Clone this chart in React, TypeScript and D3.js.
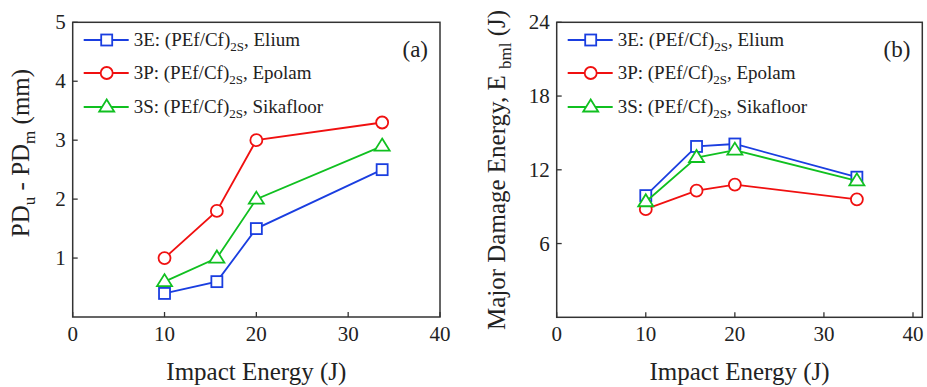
import React from "react";
import * as d3 from "d3";

const impactEnergy = [10, 15.7, 20, 33.7];
const seriesNames = ["3E", "3P", "3S"];
const seriesMatrix = ["Elium", "Epolam", "Sikafloor"];
const seriesColors = ["#1a3ee0", "#f01010", "#10c020"];
const seriesShapes = ["square", "circle", "triangle"];
const pdA = [
  [0.4, 0.6, 1.5, 2.5],
  [1.0, 1.8, 3.0, 3.3],
  [0.6, 1.0, 2.0, 2.9],
];
const energyB = [
  [9.9, 13.9, 14.1, 11.4],
  [8.8, 10.3, 10.8, 9.6],
  [9.4, 13.0, 13.6, 11.1],
];
const xTicks = [0, 10, 20, 30, 40];
const yTicksA = [1, 2, 3, 4, 5];
const yTicksB = [6, 12, 18, 24];

const FONT = "Liberation Serif, DejaVu Serif, Times New Roman, serif";
const AXIS = "#333";

function Marker({ shape, x, y, color }: any) {
  if (shape === "square")
    return <rect x={x - 5.5} y={y - 5.5} width={11} height={11} fill="white" stroke={color} strokeWidth={1.8} />;
  if (shape === "circle")
    return <circle cx={x} cy={y} r={6} fill="white" stroke={color} strokeWidth={1.8} />;
  const s = 7.5;
  return (
    <path
      d={`M${x},${y - s} L${x + s},${y + s * 0.6} L${x - s},${y + s * 0.6} Z`}
      fill="white"
      stroke={color}
      strokeWidth={1.8}
    />
  );
}

function Panel({ box, xMax, yMax, yTicks, data, tag, ylabel }: any) {
  const x = d3.scaleLinear().domain([0, xMax]).range([box.l, box.r]);
  const y = d3.scaleLinear().domain([0, yMax]).range([box.b, box.t]);
  const line = d3
    .line<number>()
    .x((_, i) => x(impactEnergy[i]))
    .y((d) => y(d));
  const legX = box.l + 11;
  const legY = [40, 73, 107];
  return (
    <g style={{ fontFamily: FONT }}>
      <rect x={box.l} y={box.t} width={box.r - box.l} height={box.b - box.t} fill="none" stroke={AXIS} strokeWidth={1.5} />
      {xTicks.map((t) => (
        <g key={"x" + t}>
          <line x1={x(t)} x2={x(t)} y1={box.b} y2={box.b - 5} stroke={AXIS} strokeWidth={1.3} />
          <text x={x(t)} y={box.b + 24} textAnchor="middle" fontSize={21} fill="#222">
            {t}
          </text>
        </g>
      ))}
      {yTicks.map((t: number) => (
        <g key={"y" + t}>
          <line x1={box.l} x2={box.l + 5} y1={y(t)} y2={y(t)} stroke={AXIS} strokeWidth={1.3} />
          <text x={box.l - 7} y={y(t) + 7} textAnchor="end" fontSize={21} fill="#222">
            {t}
          </text>
        </g>
      ))}
      <text x={(box.l + box.r) / 2} y={380} textAnchor="middle" fontSize={25} fill="#222">
        Impact Energy (J)
      </text>
      {ylabel}
      {data.map((vals: number[], si: number) => (
        <g key={si}>
          <path d={line(vals) || ""} fill="none" stroke={seriesColors[si]} strokeWidth={1.8} />
          {vals.map((v, i) => (
            <Marker key={i} shape={seriesShapes[si]} x={x(impactEnergy[i])} y={y(v)} color={seriesColors[si]} />
          ))}
        </g>
      ))}
      {seriesNames.map((n, si) => (
        <g key={"l" + si}>
          <line x1={legX} x2={legX + 45} y1={legY[si]} y2={legY[si]} stroke={seriesColors[si]} strokeWidth={1.8} />
          <Marker shape={seriesShapes[si]} x={legX + 23} y={legY[si]} color={seriesColors[si]} />
          <text x={legX + 50} y={legY[si] + 6} fontSize={19} fill="#222">
            {n}: (PEf/Cf)
            <tspan fontSize={13} dy={5}>2S</tspan>
            <tspan dy={-5}>, {seriesMatrix[si]}</tspan>
          </text>
        </g>
      ))}
      <text x={box.r - 12} y={box.t + 35} textAnchor="end" fontSize={23} fill="#222">
        {tag}
      </text>
    </g>
  );
}

export default function App() {
  const boxA = { l: 72.7, r: 440, t: 22.3, b: 317 };
  const boxB = { l: 556.7, r: 922.3, t: 22.3, b: 317.3 };
  const xMaxB = (40 * (boxB.r - boxB.l)) / (913 - boxB.l);
  return (
    <svg
      width={927}
      height={387}
      style={{ position: "absolute", left: 0, top: 0, background: "white", fontFamily: FONT }}
    >
      <Panel
        box={boxA}
        xMax={40}
        yMax={5}
        yTicks={yTicksA}
        data={pdA}
        tag="(a)"
        ylabel={
          <text transform="translate(29,153) rotate(-90)" textAnchor="middle" fontSize={25} fill="#222">
            PD<tspan fontSize={17} dy={6}>u</tspan>
            <tspan dy={-6}> - PD</tspan>
            <tspan fontSize={17} dy={6}>m</tspan>
            <tspan dy={-6}> (mm)</tspan>
          </text>
        }
      />
      <Panel
        box={boxB}
        xMax={xMaxB}
        yMax={24}
        yTicks={yTicksB}
        data={energyB}
        tag="(b)"
        ylabel={
          <text transform="translate(505,170) rotate(-90)" textAnchor="middle" fontSize={25} fill="#222">
            Major Damage Energy, E <tspan fontSize={17} dy={6}>bml</tspan>
            <tspan dy={-6}> (J)</tspan>
          </text>
        }
      />
    </svg>
  );
}
